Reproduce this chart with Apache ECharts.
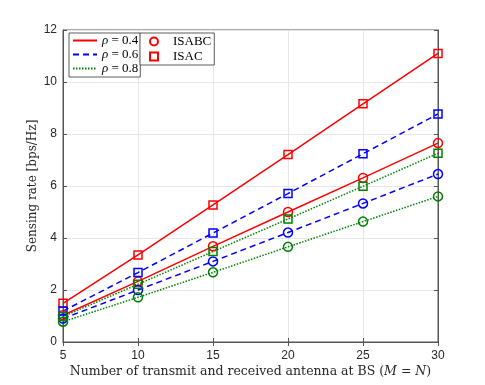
<!DOCTYPE html>
<html><head><meta charset="utf-8">
<script src="https://cdn.jsdelivr.net/npm/echarts@6/dist/echarts.min.js"></script>
<style>html,body{margin:0;padding:0;background:#fff}#c{width:485px;height:385px}</style>
</head><body><div id="c"></div>
<script>
const xs = [5, 10, 15, 20, 25, 30];
const isabc04 = [1.03, 2.33, 3.68, 5.0, 6.31, 7.65];
const isac04 = [1.49, 3.35, 5.27, 7.21, 9.16, 11.1];
const isabc06 = [0.9, 2.0, 3.1, 4.21, 5.33, 6.46];
const isac06 = [1.19, 2.67, 4.19, 5.71, 7.24, 8.77];
const isabc08 = [0.78, 1.72, 2.68, 3.66, 4.63, 5.6];
const isac08 = [0.98, 2.22, 3.48, 4.73, 5.99, 7.26];
const rhoLabels = ['0.4', '0.6', '0.8'];
const markerLabels = ['ISABC', 'ISAC'];

const RED = '#ff0000', BLUE = '#0000ff', GREEN = '#008000';
const CLEAR = 'rgba(0,0,0,0)';
const styles = [
  {c: RED, t: 'solid'},
  {c: BLUE, t: [6, 4]},
  {c: GREEN, t: [1.5, 1.5]}
];
const pairs = arr => arr.map((v, i) => [xs[i], v]);

function dataSeries(arr, st, sym) {
  return {
    type: 'line', data: pairs(arr), symbol: sym,
    symbolSize: sym === 'circle' ? 9 : 8,
    lineStyle: {color: st.c, width: 1.5, type: st.t},
    itemStyle: {color: CLEAR, borderColor: st.c, borderWidth: 1.5},
    z: 3, silent: true, animation: false
  };
}

const series = [
  dataSeries(isac04, styles[0], 'rect'),
  dataSeries(isabc04, styles[0], 'circle'),
  dataSeries(isac06, styles[1], 'rect'),
  dataSeries(isabc06, styles[1], 'circle'),
  dataSeries(isac08, styles[2], 'rect'),
  dataSeries(isabc08, styles[2], 'circle')
];
rhoLabels.forEach((r, i) => {
  series.push({type: 'line', name: r, data: [], symbol: 'circle',
    lineStyle: {color: styles[i].c, width: 1.5, type: styles[i].t},
    itemStyle: {color: CLEAR, borderColor: CLEAR, borderWidth: 0}, animation: false});
});
markerLabels.forEach((m, i) => {
  series.push({type: 'line', name: m, data: [], symbol: i === 0 ? 'circle' : 'rect',
    lineStyle: {color: CLEAR, width: 0},
    itemStyle: {color: CLEAR, borderColor: RED, borderWidth: 1.8}, animation: false});
});

const axisCol = '#555';
const serif = 'Liberation Serif, Times New Roman, serif';
const tickFont = {color: '#262626', fontSize: 12, fontFamily: 'Liberation Sans, Arial, sans-serif'};
const chart = echarts.init(document.getElementById('c'), null, {renderer: 'canvas'});
chart.setOption({
  animation: false,
  backgroundColor: '#fff',
  grid: {left: 63, right: 47, top: 30, bottom: 43, show: true, borderColor: axisCol, borderWidth: 1},
  legend: [
    {
      data: rhoLabels, orient: 'vertical', left: 69, top: 33,
      itemWidth: 24, itemHeight: 10, itemGap: 1,
      padding: [1, 2, 2, 3], borderColor: '#333', borderWidth: 0.8,
      backgroundColor: '#fff',
      formatter: n => '{i|ρ} = ' + n,
      textStyle: {fontFamily: serif, fontSize: 13, lineHeight: 13, color: '#000',
        rich: {i: {fontStyle: 'italic', fontFamily: serif, fontSize: 13, lineHeight: 13}}},
      selectedMode: false
    },
    {
      data: markerLabels, orient: 'vertical', left: 140, top: 33,
      itemWidth: 28, itemHeight: 10, itemGap: 2,
      padding: [2, 3, 2, 0], borderColor: '#333', borderWidth: 0.8,
      backgroundColor: '#fff',
      textStyle: {fontFamily: serif, fontSize: 13, lineHeight: 11, color: '#000'},
      selectedMode: false
    }
  ],
  xAxis: [
    {
      type: 'value', min: 5, max: 30, interval: 5,
      name: 'Number of transmit and received antenna at BS ({i|M} = {i|N})',
      nameLocation: 'middle', nameGap: 23, nameMoveOverlap: false,
      nameTextStyle: {fontFamily: 'DejaVu Serif, serif', fontSize: 12.5, color: '#262626',
        rich: {i: {fontStyle: 'italic', fontFamily: 'DejaVu Serif, serif', fontSize: 12.5, color: '#262626'}}},
      axisLine: {show: true, lineStyle: {color: axisCol}},
      axisTick: {show: true, inside: true, length: 4, lineStyle: {color: axisCol}},
      axisLabel: Object.assign({margin: 8}, tickFont),
      splitLine: {show: true, lineStyle: {color: '#e6e6e6', width: 1}}
    },
    {
      type: 'value', position: 'top', min: 5, max: 30, interval: 5,
      axisLine: {show: true, lineStyle: {color: axisCol}},
      axisTick: {show: true, inside: true, length: 4, lineStyle: {color: axisCol}},
      axisLabel: {show: false}, splitLine: {show: false}
    }
  ],
  yAxis: [
    {
      type: 'value', min: 0, max: 12, interval: 2,
      name: 'Sensing rate [bps/Hz]', nameLocation: 'middle', nameGap: 24, nameMoveOverlap: false,
      nameTextStyle: {fontFamily: 'DejaVu Serif, serif', fontSize: 12, color: '#262626'},
      axisLine: {show: true, lineStyle: {color: axisCol}},
      axisTick: {show: true, inside: true, length: 4, lineStyle: {color: axisCol}},
      axisLabel: Object.assign({margin: 6}, tickFont),
      splitLine: {show: true, lineStyle: {color: '#e6e6e6', width: 1}}
    },
    {
      type: 'value', position: 'right', min: 0, max: 12, interval: 2,
      axisLine: {show: true, lineStyle: {color: axisCol}},
      axisTick: {show: true, inside: true, length: 4, lineStyle: {color: axisCol}},
      axisLabel: {show: false}, splitLine: {show: false}
    }
  ],
  series: series
});
</script>
</body></html>
